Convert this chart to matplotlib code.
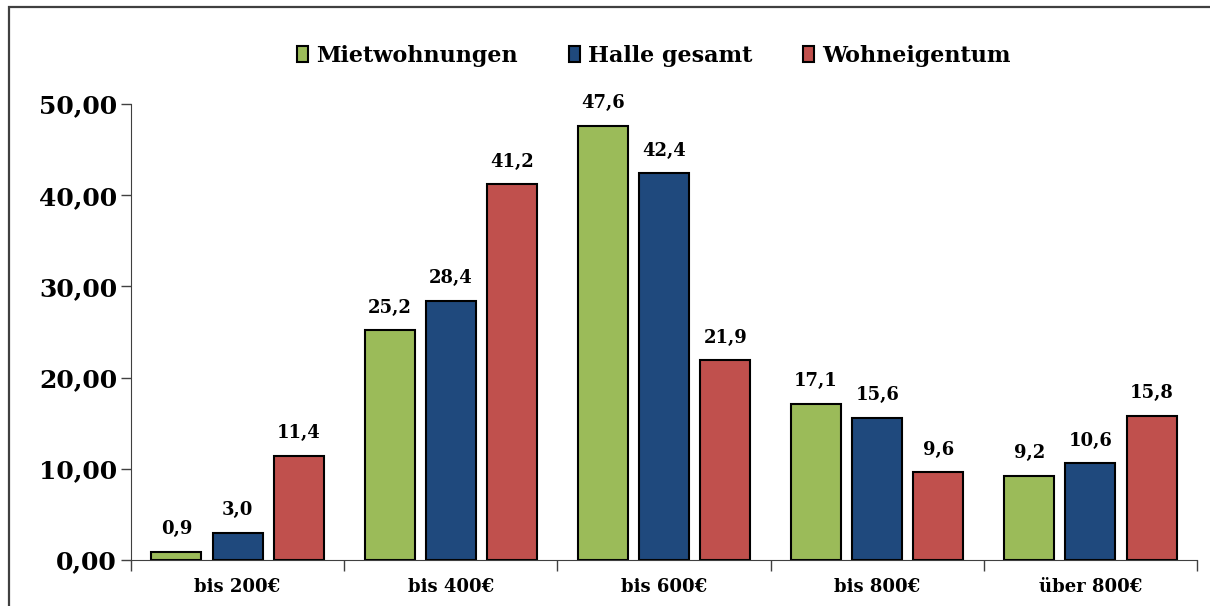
import matplotlib.pyplot as plt
import numpy as np
from matplotlib.patches import Rectangle

# Anteile nach Kategorie
kategorien = ["bis 200€", "bis 400€", "bis 600€", "bis 800€", "über 800€"]
mietwohnungen = [0.9, 25.2, 47.6, 17.1, 9.2]
halle_gesamt = [3.0, 28.4, 42.4, 15.6, 10.6]
wohneigentum = [11.4, 41.2, 21.9, 9.6, 15.8]

serien = [
    ("Mietwohnungen", mietwohnungen, "#9BBB59"),
    ("Halle gesamt", halle_gesamt, "#1F497D"),
    ("Wohneigentum", wohneigentum, "#C0504D"),
]

plt.rcParams["font.family"] = ["DejaVu Serif"]
plt.rcParams["font.weight"] = "bold"

fig = plt.figure(figsize=(12.1, 6.06), dpi=100)
ax = fig.add_axes([131 / 1210, 1 - 560 / 606, (1197 - 131) / 1210, (560 - 104) / 606])

# Rahmen um das Diagramm
fig.patches.append(Rectangle((9 / 1210, -0.1), 1.2, 1 - 6.5 / 606 + 0.1,
                             transform=fig.transFigure, fill=False,
                             edgecolor="#404040", lw=1.6))

x = np.arange(len(kategorien))
breite = 0.235
abstand = 0.287
for i, (name, werte, farbe) in enumerate(serien):
    pos = x + (i - 1) * abstand
    bars = ax.bar(pos, werte, breite, color=farbe, edgecolor="black", lw=1.5, label=name)
    for b, v in zip(bars, werte):
        ax.text(b.get_x() + b.get_width() / 2, v + 1.5, f"{v:.1f}".replace(".", ","),
                ha="center", va="bottom", fontsize=13, fontweight="bold")

ax.set_xlim(-0.5, len(kategorien) - 0.5)
ax.set_ylim(0, 50)
ax.set_yticks(np.arange(0, 51, 10))
ax.set_yticklabels([f"{v:.2f}".replace(".", ",") for v in np.arange(0, 51, 10)],
                   fontsize=18, fontweight="bold")
ax.set_xticks(x)
ax.set_xticklabels(kategorien, fontsize=13, fontweight="bold")
ax.tick_params(axis="x", length=0, pad=13)
ax.tick_params(axis="y", length=7, width=1, color="#404040", pad=3)
ax.set_xticks(np.arange(-0.5, len(kategorien)), minor=True)
ax.tick_params(axis="x", which="minor", length=8, width=1, color="#404040")

for s in ["top", "right"]:
    ax.spines[s].set_visible(False)
ax.spines["left"].set_color("#404040")
ax.spines["bottom"].set_color("#404040")

ax.legend(loc="center", bbox_to_anchor=(654 / 1210, 1 - 56 / 606),
          bbox_transform=fig.transFigure, ncol=3, frameon=False,
          prop={"size": 16, "weight": "bold"}, handlelength=0.5, handleheight=0.75,
          handletextpad=0.35, columnspacing=2.3)

fig.savefig("out.png", dpi=100)
